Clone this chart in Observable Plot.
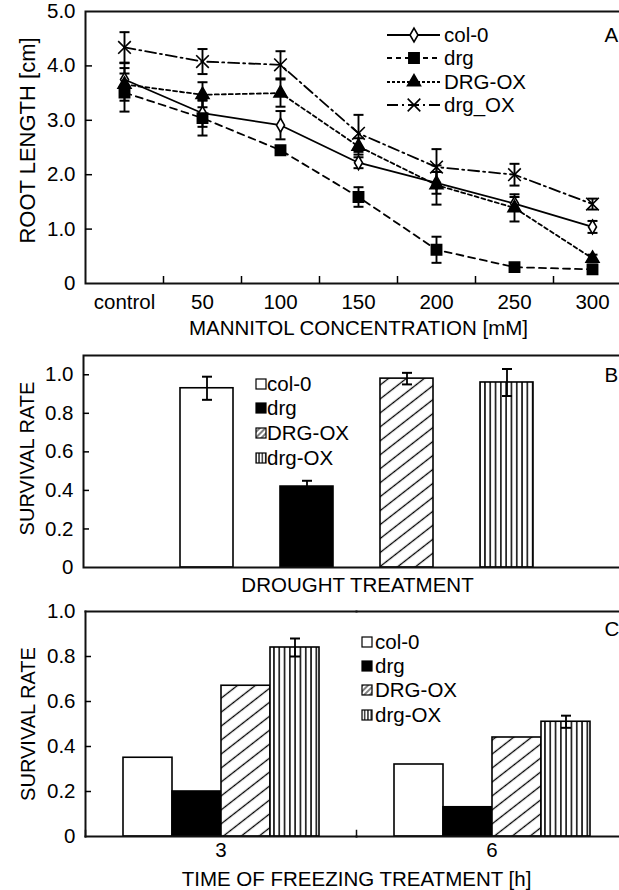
<!DOCTYPE html>
<html><head><meta charset="utf-8">
<script src="https://cdn.jsdelivr.net/npm/d3@7"></script>
<script src="https://cdn.jsdelivr.net/npm/@observablehq/plot@0.6"></script>
<style>
html,body{margin:0;padding:0;background:#fff;overflow:hidden;}
#wrap{width:619px;height:890px;overflow:hidden;position:relative;background:#fff;}
#wrap svg{display:block;max-width:none !important;width:640px;}
</style></head><body>
<svg width="0" height="0" style="position:absolute"><defs>
  <pattern id="diag" patternUnits="userSpaceOnUse" width="11" height="11" patternTransform="rotate(-38)">
    <rect width="11" height="11" fill="white"/>
    <line x1="-2" y1="5.5" x2="13" y2="5.5" stroke="black" stroke-width="1.3"/>
  </pattern>
  <pattern id="vstr" patternUnits="userSpaceOnUse" width="5.3" height="10">
    <rect width="5.3" height="10" fill="white"/>
    <line x1="2.65" y1="0" x2="2.65" y2="10" stroke="black" stroke-width="1.5"/>
  </pattern>
  <pattern id="diagS" patternUnits="userSpaceOnUse" width="4" height="4" patternTransform="rotate(-45)">
    <rect width="4" height="4" fill="white"/>
    <line x1="-1" y1="2" x2="5" y2="2" stroke="black" stroke-width="1"/>
  </pattern>
  <pattern id="vstrS" patternUnits="userSpaceOnUse" width="3.3" height="10">
    <rect width="3.3" height="10" fill="white"/>
    <line x1="1.65" y1="0" x2="1.65" y2="10" stroke="black" stroke-width="1.2"/>
  </pattern>
</defs></svg>
<div id="wrap"></div>
<script>
// ---------- DATA ----------
// Panel A: root length under mannitol
const concentrations = ["control", "50", "100", "150", "200", "250", "300"];
const rootSeries = ["col-0", "drg", "DRG-OX", "drg_OX"];
const col0Root   = [3.75, 3.13, 2.91, 2.22, 1.85, 1.47, 1.04];
const col0Err    = [0.30, 0.25, 0.26, 0.10, 0.20, 0.12, 0.11];
const drgRoot    = [3.51, 3.04, 2.45, 1.59, 0.62, 0.30, 0.26];
const drgErr     = [0.35, 0.32, 0.05, 0.18, 0.24, 0.05, 0.06];
const drgOxRootU = [3.66, 3.47, 3.50, 2.52, 1.81, 1.39, 0.46];
const drgOxErrU  = [0.30, 0.23, 0.25, 0.15, 0.36, 0.25, 0.07];
const drgOxRoot  = [4.34, 4.08, 4.02, 2.76, 2.14, 2.00, 1.46];
const drgOxErr   = [0.28, 0.23, 0.25, 0.34, 0.33, 0.20, 0.10];
const rootYTicks = [0, 1, 2, 3, 4, 5];

// Panels B and C: survival rate
const barSeries = ["col-0", "drg", "DRG-OX", "drg-OX"];
const droughtRate = [0.93, 0.42, 0.98, 0.96];
const droughtErr  = [0.06, 0.03, 0.03, 0.07];
const freezeTimes = ["3", "6"];
const freeze3Rate = [0.35, 0.20, 0.67, 0.84];
const freeze6Rate = [0.32, 0.13, 0.44, 0.51];
const freeze3Err  = [null, null, null, 0.04];
const freeze6Err  = [null, null, null, 0.027];
const survivalTicksB = [0, 0.2, 0.4, 0.6, 0.8, 1.0];
const survivalTicksC = [0, 0.2, 0.4, 0.6, 0.8, 1.0];

// ---------- STYLE ----------
const FONT = "'Liberation Sans', Arial, Helvetica, sans-serif";
const FS = "20.5px";
const lineDash = [null, "7,5", "4,3", "11,4,2,4"];
const legendDash = [null, "5,4", "3,2", "11,4,2,4"];
const plotSymbols = ["diamond", "square", "triangle", "times"];
const d3Symbols = [d3.symbolDiamond, d3.symbolSquare, d3.symbolTriangle, d3.symbolTimes];
const symbolFill = ["white", "black", "black", "none"];
const symbolR = [4.2, 5.8, 4.8, 5.8];
const barFill = ["white", "black", "url(#diag)", "url(#vstr)"];
const legendFill = ["white", "black", "url(#diagS)", "url(#vstrS)"];
const fmt = d => d === 0 ? "0" : d.toFixed(1);
const capSymbol = {draw(ctx, size) { const r = Math.sqrt(size / Math.PI); ctx.moveTo(-r, 0); ctx.lineTo(r, 0); }};
const baseStyle = {fontFamily: FONT, fontSize: FS, color: "black", background: "white", maxWidth: "none"};

const wrap = document.getElementById("wrap");

// ---------- PANEL A ----------
const rootValues = [col0Root, drgRoot, drgOxRootU, drgOxRoot];
const rootErrors = [col0Err, drgErr, drgOxErrU, drgOxErr];
const rootData = rootSeries.flatMap((s, si) => rootValues[si].map((v, i) => ({s, si, xi: i + 0.5, v, e: rootErrors[si][i]})));

const marksA = [];
rootSeries.forEach((s, si) => {
  marksA.push(Plot.line(rootData.filter(d => d.si === si), {x: "xi", y: "v", stroke: "black", strokeWidth: 1.8, strokeDasharray: lineDash[si] ?? undefined}));
});
marksA.push(Plot.ruleX(rootData, {x: "xi", y1: d => d.v - d.e, y2: d => d.v + d.e, stroke: "black", strokeWidth: 1.9}));
marksA.push(Plot.dot(rootData, {x: "xi", y: d => d.v + d.e, symbol: capSymbol, r: 5, fill: "none", stroke: "black", strokeWidth: 2}));
marksA.push(Plot.dot(rootData, {x: "xi", y: d => d.v - d.e, symbol: capSymbol, r: 5, fill: "none", stroke: "black", strokeWidth: 2}));
rootSeries.forEach((s, si) => {
  marksA.push(Plot.dot(rootData.filter(d => d.si === si), {x: "xi", y: "v", symbol: plotSymbols[si], r: symbolR[si], fill: symbolFill[si], stroke: "black", strokeWidth: 1.6}));
});
marksA.push(
  Plot.frame({stroke: "#111", strokeWidth: 2}),
  Plot.axisY(rootYTicks, {tickSize: 0, tickPadding: 10, tickFormat: fmt, label: null}),
  Plot.axisY(rootYTicks.slice(1, -1), {tickSize: -7, tickFormat: () => "", label: null, strokeWidth: 1.5}),
  Plot.axisX(concentrations.slice(1).map((c, i) => i + 1), {tickSize: -7, tickFormat: () => "", label: null, strokeWidth: 1.5}),
  Plot.axisX(concentrations.map((c, i) => i + 0.5), {tickSize: 0, tickPadding: 11, tickFormat: d => concentrations[Math.round(d - 0.5)], label: null}),
  Plot.text(["MANNITOL CONCENTRATION [mM]"], {frameAnchor: "bottom", dy: 45, lineAnchor: "middle", fontSize: FS}),
  Plot.text(["ROOT LENGTH [cm]"], {frameAnchor: "left", textAnchor: "middle", rotate: -90, dx: -58, dy: -7, lineAnchor: "middle", fontSize: "22px"}),
  Plot.text(["A"], {frameAnchor: "top-right", textAnchor: "start", dx: -27, dy: 24, lineAnchor: "middle", fontSize: FS})
);

const svgA = Plot.plot({
  width: 640, height: 340, marginLeft: 85, marginRight: 9, marginTop: 11, marginBottom: 57,
  style: baseStyle,
  x: {domain: [0, concentrations.length]},
  y: {domain: [0, 5]},
  marks: marksA
});
{
  const g = d3.select(svgA).append("g").attr("text-anchor", "start");
  const rowsA = [35, 58, 82, 105];
  rootSeries.forEach((s, si) => {
    const y = rowsA[si];
    const ln = g.append("line").attr("x1", 387).attr("x2", 440).attr("y1", y).attr("y2", y)
      .attr("stroke", "black").attr("stroke-width", 1.8);
    if (legendDash[si]) ln.attr("stroke-dasharray", legendDash[si]);
    g.append("path").attr("transform", `translate(414,${y})`)
      .attr("d", d3.symbol(d3Symbols[si], Math.PI * symbolR[si] * symbolR[si])())
      .attr("fill", symbolFill[si]).attr("stroke", "black").attr("stroke-width", 1.6);
    g.append("text").attr("x", 444).attr("y", y).attr("dy", "0.35em").attr("text-anchor", "start")
      .attr("font-family", FONT).attr("font-size", FS).text(s);
  });
}
wrap.appendChild(svgA);

// ---------- PANEL B ----------
const droughtData = barSeries.map((s, i) => ({s, v: droughtRate[i], e: droughtErr[i], f: barFill[i]}));
const svgB = Plot.plot({
  width: 640, height: 258, marginLeft: 83, marginRight: 9, marginTop: 15, marginBottom: 31,
  style: baseStyle,
  x: {type: "band", domain: barSeries, range: [156, 556], paddingInner: 0.47, paddingOuter: 0.235, axis: null},
  y: {domain: [0, 1.1]},
  color: {type: "identity"},
  marks: [
    Plot.barY(droughtData, {x: "s", y: "v", fill: "f", stroke: "black", strokeWidth: 1.6}),
    Plot.ruleX(droughtData, {x: "s", y1: d => d.v - d.e, y2: d => d.v + d.e, stroke: "black", strokeWidth: 1.8}),
    Plot.dot(droughtData, {x: "s", y: d => d.v + d.e, symbol: capSymbol, r: 5, fill: "none", stroke: "black", strokeWidth: 2}),
    Plot.dot(droughtData, {x: "s", y: d => d.v - d.e, symbol: capSymbol, r: 5, fill: "none", stroke: "black", strokeWidth: 2}),
    Plot.frame({stroke: "#111", strokeWidth: 2}),
    Plot.axisY(survivalTicksB, {tickSize: 0, tickPadding: 10, tickFormat: fmt, label: null}),
    Plot.axisY(survivalTicksB.slice(1), {tickSize: -6, tickFormat: () => "", label: null, strokeWidth: 1.5}),
    Plot.text(["DROUGHT TREATMENT"], {frameAnchor: "bottom", dy: 18, lineAnchor: "middle", fontSize: FS}),
    Plot.text(["SURVIVAL RATE"], {frameAnchor: "left", textAnchor: "middle", rotate: -90, dx: -56, dy: -3, lineAnchor: "middle", fontSize: "20px"}),
    Plot.text(["B"], {frameAnchor: "top-right", textAnchor: "start", dx: -27, dy: 20, lineAnchor: "middle", fontSize: FS})
  ]
});
{
  const g = d3.select(svgB).append("g").attr("text-anchor", "start");
  const rowsB = [44, 68, 93, 118];
  barSeries.forEach((s, i) => {
    const y = rowsB[i];
    g.append("rect").attr("x", 256).attr("y", y - 5).attr("width", 10).attr("height", 10)
      .attr("fill", legendFill[i]).attr("stroke", "black").attr("stroke-width", 1.2);
    g.append("text").attr("x", 267).attr("y", y).attr("dy", "0.35em").attr("text-anchor", "start")
      .attr("font-family", FONT).attr("font-size", FS).text(s);
  });
}
wrap.appendChild(svgB);

// ---------- PANEL C ----------
const freezeRates = [freeze3Rate, freeze6Rate];
const freezeErrs = [freeze3Err, freeze6Err];
const freezeData = freezeTimes.flatMap((t, ti) => barSeries.map((s, i) => ({t, s, v: freezeRates[ti][i], e: freezeErrs[ti][i], f: barFill[i]})));
const freezeErrData = freezeData.filter(d => d.e != null);
const facetH = 292 - 13 - 54;
const svgC = Plot.plot({
  width: 640, height: 292, marginLeft: 84, marginRight: 13, marginTop: 13, marginBottom: 54,
  style: baseStyle,
  fx: {domain: freezeTimes, padding: 0, axis: null},
  x: {type: "band", domain: barSeries, paddingInner: 0, paddingOuter: 0.73, axis: null},
  y: {domain: [0, 1]},
  color: {type: "identity"},
  marks: [
    Plot.barY(freezeData, {fx: "t", x: "s", y: "v", fill: "f", stroke: "black", strokeWidth: 1.6}),
    Plot.ruleX(freezeErrData, {fx: "t", x: "s", y1: d => d.v - d.e, y2: d => d.v + d.e, stroke: "black", strokeWidth: 1.8}),
    Plot.dot(freezeErrData, {fx: "t", x: "s", y: d => d.v + d.e, symbol: capSymbol, r: 5, fill: "none", stroke: "black", strokeWidth: 2}),
    Plot.dot(freezeErrData, {fx: "t", x: "s", y: d => d.v - d.e, symbol: capSymbol, r: 5, fill: "none", stroke: "black", strokeWidth: 2}),
    Plot.frame({anchor: "top", stroke: "#111", strokeWidth: 2}),
    Plot.frame({anchor: "bottom", stroke: "#111", strokeWidth: 2}),
    Plot.frame({anchor: "left", stroke: "#111", strokeWidth: 1.5, insetTop: facetH - 6}),
    Plot.frame({anchor: "left", facet: "super", stroke: "#111", strokeWidth: 2}),
    Plot.axisY(survivalTicksC, {tickSize: 0, tickPadding: 10, tickFormat: fmt, label: null}),
    Plot.axisY(survivalTicksC.slice(1, -1), {tickSize: -6, tickFormat: () => "", label: null, strokeWidth: 1.5}),
    Plot.axisFx({anchor: "bottom", tickSize: 0, tickPadding: 6, label: null}),
    Plot.text(["TIME OF FREEZING TREATMENT [h]"], {facet: "super", frameAnchor: "bottom", dy: 43, lineAnchor: "middle", fontSize: FS}),
    Plot.text(["SURVIVAL RATE"], {facet: "super", frameAnchor: "left", textAnchor: "middle", rotate: -90, dx: -57, dy: 0, lineAnchor: "middle", fontSize: "20px"}),
    Plot.text(["C"], {facet: "super", frameAnchor: "top-right", textAnchor: "start", dx: -23, dy: 18, lineAnchor: "middle", fontSize: FS})
  ]
});
{
  const g = d3.select(svgC).append("g").attr("text-anchor", "start");
  const rowsC = [44, 68, 92, 117];
  barSeries.forEach((s, i) => {
    const y = rowsC[i];
    g.append("rect").attr("x", 362).attr("y", y - 5).attr("width", 10).attr("height", 10)
      .attr("fill", legendFill[i]).attr("stroke", "black").attr("stroke-width", 1.2);
    g.append("text").attr("x", 375).attr("y", y).attr("dy", "0.35em").attr("text-anchor", "start")
      .attr("font-family", FONT).attr("font-size", FS).text(s);
  });
}
wrap.appendChild(svgC);
</script>
</body></html>
